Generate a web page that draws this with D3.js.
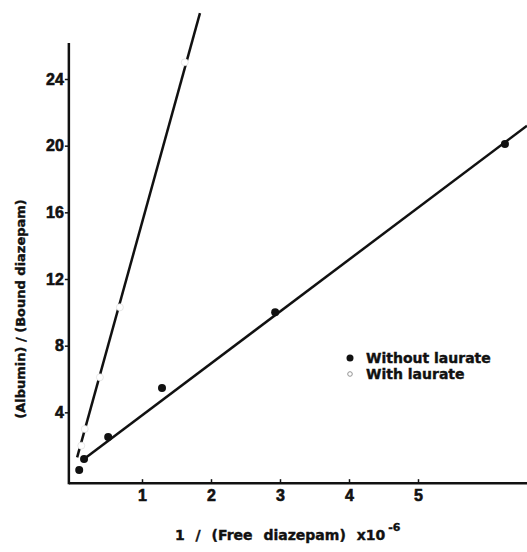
<!DOCTYPE html>
<html>
<head>
<meta charset="utf-8">
<script src="https://cdn.jsdelivr.net/npm/d3@7"></script>
<style>
  body { margin: 0; background: #fff; }
  svg text { font-family: "DejaVu Sans", sans-serif; font-weight: bold; fill: #111; stroke: #111; stroke-width: 0.4px; }
  .tick text { font-family: "Liberation Sans", Arial, sans-serif; font-size: 16px; stroke-width: 0.6px; }
</style>
</head>
<body>
<svg width="527" height="552"></svg>
<script>
// values
const withoutX = [0.09, 0.16, 0.51, 1.29, 2.93, 6.26];
const withoutY = [0.54, 1.2, 2.52, 5.46, 10.0, 20.1];
const withX = [0.12, 0.17, 0.39, 0.68, 1.62];
const withY = [2.0, 3.0, 6.1, 10.3, 25.0];
// fitted lines, [x, y] endpoints
const fitWithout = [[0.16, 1.2], [6.58, 21.2]];
const fitWith = [[0.06, 1.3], [1.84, 27.95]];
const xTicks = [1, 2, 3, 4, 5];
const yTicks = [4, 8, 12, 16, 20, 24];
const legendLabels = ["Without laurate", "With laurate"];

const svg = d3.select("svg");
const x = d3.scaleLinear().domain([0, 5]).range([73, 418]);
const y = d3.scaleLinear().domain([0, 24]).range([479, 79]);

const axisY = y(-0.25); // x axis sits a touch below zero
const axisX = x(-0.06);

// x axis
const gx = svg.append("g")
  .attr("transform", `translate(0,${axisY})`)
  .call(d3.axisBottom(x).tickValues(xTicks).tickSize(-4).tickPadding(6).tickFormat(d3.format("d")));
gx.select(".domain").remove();
gx.selectAll(".tick line").attr("stroke", "#111").attr("stroke-width", 1.5);

// y axis
const gy = svg.append("g")
  .attr("transform", `translate(${axisX},0)`)
  .call(d3.axisLeft(y).tickValues(yTicks).tickSize(4).tickPadding(1).tickFormat(d3.format("d")));
gy.select(".domain").remove();
gy.selectAll(".tick line").attr("stroke", "#111").attr("stroke-width", 1.5);

// axis lines
svg.append("line")
  .attr("x1", axisX).attr("x2", 527)
  .attr("y1", axisY).attr("y2", axisY)
  .attr("stroke", "#111").attr("stroke-width", 2.5);
svg.append("line")
  .attr("x1", axisX).attr("x2", axisX)
  .attr("y1", 43).attr("y2", axisY + 1)
  .attr("stroke", "#111").attr("stroke-width", 2.5);

const line = d3.line().x(d => x(d[0])).y(d => y(d[1]));

svg.append("path")
  .attr("d", line(fitWithout))
  .attr("fill", "none").attr("stroke", "#111").attr("stroke-width", 2.5);
svg.append("path")
  .attr("d", line(fitWith))
  .attr("fill", "none").attr("stroke", "#111").attr("stroke-width", 2.5);

// filled points
svg.selectAll(".without")
  .data(withoutX.map((d, i) => [d, withoutY[i]]))
  .join("circle")
  .attr("class", "without")
  .attr("cx", d => x(d[0])).attr("cy", d => y(d[1]))
  .attr("r", 4).attr("fill", "#111");

// open points (they show up as gaps in the line)
svg.selectAll(".with")
  .data(withX.map((d, i) => [d, withY[i]]))
  .join("circle")
  .attr("class", "with")
  .attr("cx", d => x(d[0])).attr("cy", d => y(d[1]))
  .attr("r", 3.5).attr("fill", "#fff")
  .attr("stroke", "#ddd").attr("stroke-width", 0.7);

// legend
const lg = svg.append("g").attr("transform", "translate(350,358)");
lg.append("circle").attr("r", 3.5).attr("fill", "#111");
lg.append("circle").attr("cy", 16).attr("r", 2.3).attr("fill", "#fff")
  .attr("stroke", "#888").attr("stroke-width", 0.9);
lg.selectAll("text")
  .data(legendLabels)
  .join("text")
  .attr("x", 16).attr("y", (d, i) => i * 16 + 5)
  .attr("font-size", 14)
  .text(d => d);

// axis titles
const xt = svg.append("text")
  .attr("x", 175).attr("y", 540)
  .attr("font-size", 14)
  .attr("word-spacing", 6);
xt.append("tspan").text("1 / (Free diazepam) x10");
xt.append("tspan").attr("dx", 3).attr("dy", -9).attr("font-size", 11).text("-6");

svg.append("text")
  .attr("transform", "translate(25,309) rotate(-90)")
  .attr("text-anchor", "middle")
  .attr("font-size", 13)
  .text("(Albumin) / (Bound diazepam)");
</script>
</body>
</html>
